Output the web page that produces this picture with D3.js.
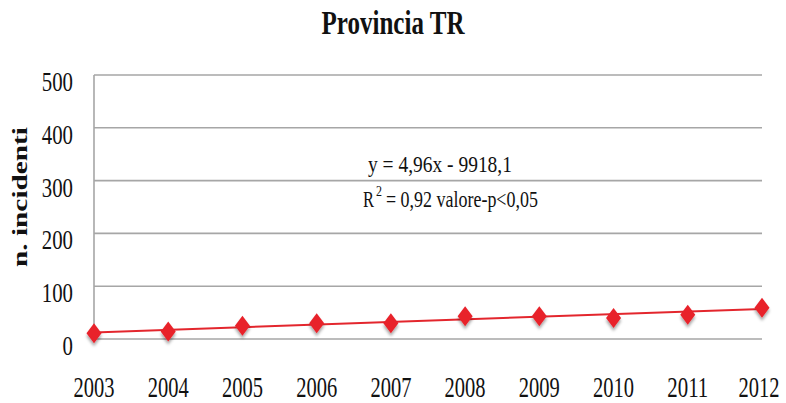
<!DOCTYPE html>
<html>
  <head>
    <title>Provincia TR</title>
    <meta charset="utf-8" />
    <style>
      body { margin: 0; background: #fff; }
      text { font-family: "Liberation Serif", "DejaVu Serif", serif; fill: #111; }
    </style>
  </head>
  <body>
    <div id="chart"></div>
    <script src="https://d3js.org/d3.v7.min.js"></script>
    <script type="text/javascript">
        const years = [2003, 2004, 2005, 2006, 2007, 2008, 2009, 2010, 2011, 2012];
        const incidenti = [11, 14, 25, 30, 30, 43, 43, 40, 46, 59];
        const yTicks = [0, 100, 200, 300, 400, 500];
        const trendYears = [2003, 2012];
        const trendValues = [12.5, 57];
        const equationLines = ["y = 4,96x - 9918,1", "= 0,92 valore-p<0,05"];

        const width = 786;
        const height = 403;
        const margin = ({top: 75, right: 24, bottom: 64, left: 94});

        const x = d3.scaleLinear()
            .domain([years[0], years[years.length - 1]])
            .range([margin.left, width - margin.right]);
        const y = d3.scaleLinear()
            .domain([0, 500])
            .range([height - margin.bottom, margin.top]);

        const svg = d3.select("#chart")
            .append("svg")
            .attr("width", width)
            .attr("height", height);

        // squeeze a text horizontally to a given width (the reference font is narrow)
        function squeeze(text, px, py, w) {
            const natural = text.node().getComputedTextLength();
            text.attr("transform", `translate(${px},${py}) scale(${w / natural},1)`);
            return text;
        }

        const defs = svg.append("defs");
        defs.append("filter")
            .attr("id", "shadow")
            .attr("x", "-50%").attr("y", "-50%")
            .attr("width", "200%").attr("height", "200%")
            .append("feDropShadow")
            .attr("dx", 0).attr("dy", 3)
            .attr("stdDeviation", 1.6)
            .attr("flood-color", "#000")
            .attr("flood-opacity", 0.35);

        // title
        squeeze(svg.append("text")
            .attr("text-anchor", "middle")
            .attr("font-size", 34)
            .attr("font-weight", "bold")
            .text("Provincia TR"), 393, 34, 143);

        // gridlines
        svg.append("g")
            .attr("stroke", "#a6a6a6")
            .attr("stroke-width", 1.6)
            .selectAll("line")
            .data(yTicks)
            .join("line")
            .attr("x1", margin.left)
            .attr("x2", width - margin.right)
            .attr("y1", d => y(d))
            .attr("y2", d => y(d));

        // y axis line
        svg.append("line")
            .attr("x1", margin.left).attr("x2", margin.left)
            .attr("y1", y(500)).attr("y2", y(0))
            .attr("stroke", "#a6a6a6")
            .attr("stroke-width", 1.6);

        // y tick labels
        svg.append("g")
            .selectAll("text")
            .data(yTicks)
            .join("text")
            .attr("text-anchor", "end")
            .attr("font-size", 27)
            .text(d => d)
            .each(function(d) {
                squeeze(d3.select(this), 73, y(d) + 16, String(d).length * 10.4);
            });

        // x tick labels
        svg.append("g")
            .selectAll("text")
            .data(years)
            .join("text")
            .attr("text-anchor", "middle")
            .attr("font-size", 30)
            .text(d => d)
            .each(function(d) {
                squeeze(d3.select(this), Math.min(x(d), 759), 397, 41);
            });

        // y axis title
        svg.append("text")
            .attr("transform", "translate(27,197) rotate(-90)")
            .attr("text-anchor", "middle")
            .attr("font-size", 20)
            .attr("font-weight", "bold")
            .attr("textLength", 140)
            .attr("lengthAdjust", "spacingAndGlyphs")
            .text("n. incidenti");

        // trend line
        const line = d3.line()
            .x(d => x(d[0]))
            .y(d => y(d[1]));
        svg.append("path")
            .datum(d3.zip(trendYears, trendValues))
            .attr("fill", "none")
            .attr("stroke", "#e3262d")
            .attr("stroke-width", 2)
            .attr("d", line);

        // markers
        const diamond = "M0,-10L7.5,0L0,10L-7.5,0Z";
        svg.append("g")
            .attr("filter", "url(#shadow)")
            .selectAll("path")
            .data(d3.zip(years, incidenti))
            .join("path")
            .attr("transform", d => `translate(${x(d[0])},${y(d[1])})`)
            .attr("d", diamond)
            .attr("fill", "#e8212a");

        // equation label
        squeeze(svg.append("text")
            .attr("font-size", 24)
            .text(equationLines[0]), 368, 172, 144);

        squeeze(svg.append("text")
            .attr("font-size", 24)
            .text("R"), 363, 207, 11);
        squeeze(svg.append("text")
            .attr("font-size", 14)
            .text("2"), 376, 196, 6);
        squeeze(svg.append("text")
            .attr("font-size", 24)
            .text(equationLines[1]), 386, 207, 152);
    </script>
  </body>
</html>
